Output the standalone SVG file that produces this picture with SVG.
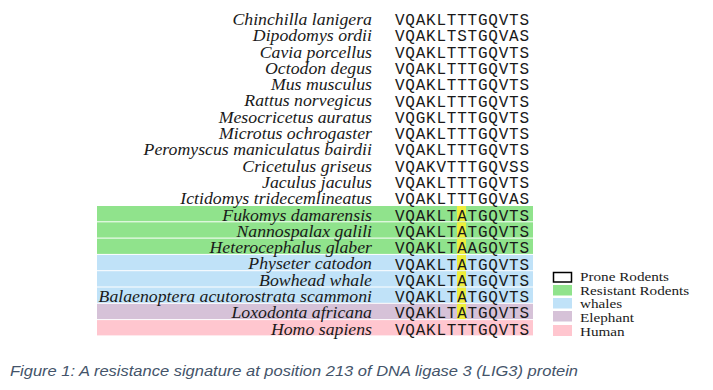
<svg xmlns="http://www.w3.org/2000/svg" width="713" height="390" viewBox="0 0 713 390">
<style>
.nm{font-family:"Liberation Serif",serif;font-style:italic;font-size:16px;fill:#1a1a1a;text-anchor:end}
.sq{font-family:"Liberation Mono",monospace;font-size:16px;fill:#1a1a1a}
.lg{font-family:"Liberation Serif",serif;font-size:13px;fill:#1a1a1a}
.cap{font-family:"Liberation Sans",sans-serif;font-style:italic;font-size:14.5px;fill:#44546a}
.g{fill:#90e38c}.b{fill:#c0e2f8}.p{fill:#d6c2d8}.k{fill:#ffc6cf}.y{fill:#eeee3c}
</style>
<rect width="713" height="390" fill="#ffffff"/>
<g id="bands">
<rect class="g" x="97" y="206" width="436" height="15.3"/>
<rect class="g" x="97" y="222.3" width="436" height="15.3"/>
<rect class="g" x="97" y="238.6" width="436" height="15.3"/>
<rect class="b" x="97" y="254.9" width="436" height="15.3"/>
<rect class="b" x="97" y="271.2" width="436" height="15.3"/>
<rect class="b" x="97" y="287.5" width="436" height="15.3"/>
<rect class="p" x="97" y="303.8" width="436" height="15.3"/>
<rect class="k" x="97" y="320.1" width="436" height="15.3"/>
<rect class="y" x="457" y="206" width="9" height="15.3"/>
<rect class="y" x="457" y="222.3" width="9" height="15.3"/>
<rect class="y" x="457" y="238.6" width="9" height="15.3"/>
<rect class="y" x="457" y="254.9" width="9" height="15.3"/>
<rect class="y" x="457" y="271.2" width="9" height="15.3"/>
<rect class="y" x="457" y="287.5" width="9" height="15.3"/>
<rect class="y" x="457" y="303.8" width="9" height="15.3"/>
</g>
<g id="names" transform="translate(372,0) scale(1.11,1) translate(-372,0)">
<text class="nm" x="372" y="25">Chinchilla lanigera</text>
<text class="nm" x="372" y="41.3">Dipodomys ordii</text>
<text class="nm" x="372" y="57.6">Cavia porcellus</text>
<text class="nm" x="372" y="73.9">Octodon degus</text>
<text class="nm" x="372" y="90.2">Mus musculus</text>
<text class="nm" x="372" y="106.5">Rattus norvegicus</text>
<text class="nm" x="372" y="122.8">Mesocricetus auratus</text>
<text class="nm" x="372" y="139.1">Microtus ochrogaster</text>
<text class="nm" x="372" y="155.4">Peromyscus maniculatus bairdii</text>
<text class="nm" x="372" y="171.7">Cricetulus griseus</text>
<text class="nm" x="372" y="188">Jaculus jaculus</text>
<text class="nm" x="372" y="204.3">Ictidomys tridecemlineatus</text>
<text class="nm" x="372" y="220.6">Fukomys damarensis</text>
<text class="nm" x="372" y="236.9">Nannospalax galili</text>
<text class="nm" x="372" y="253.2">Heterocephalus glaber</text>
<text class="nm" x="372" y="269.5">Physeter catodon</text>
<text class="nm" x="372" y="285.8">Bowhead whale</text>
<text class="nm" x="372" y="302.1">Balaenoptera acutorostrata scammoni</text>
<text class="nm" x="372" y="318.4">Loxodonta africana</text>
<text class="nm" x="372" y="334.7">Homo sapiens</text>
</g>
<g id="sequences">
<text class="sq" x="395" y="25" textLength="134">VQAKLTTTGQVTS</text>
<text class="sq" x="395" y="41.3" textLength="134">VQAKLTSTGQVAS</text>
<text class="sq" x="395" y="57.6" textLength="134">VQAKLTTTGQVTS</text>
<text class="sq" x="395" y="73.9" textLength="134">VQAKLTTTGQVTS</text>
<text class="sq" x="395" y="90.2" textLength="134">VQAKLTTTGQVTS</text>
<text class="sq" x="395" y="106.5" textLength="134">VQAKLTTTGQVTS</text>
<text class="sq" x="395" y="122.8" textLength="134">VQGKLTTTGQVTS</text>
<text class="sq" x="395" y="139.1" textLength="134">VQAKLTTTGQVTS</text>
<text class="sq" x="395" y="155.4" textLength="134">VQAKLTTTGQVTS</text>
<text class="sq" x="395" y="171.7" textLength="134">VQAKVTTTGQVSS</text>
<text class="sq" x="395" y="188" textLength="134">VQAKLTTTGQVTS</text>
<text class="sq" x="395" y="204.3" textLength="134">VQAKLTTTGQVAS</text>
<text class="sq" x="395" y="220.6" textLength="134">VQAKLTATGQVTS</text>
<text class="sq" x="395" y="236.9" textLength="134">VQAKLTATGQVTS</text>
<text class="sq" x="395" y="253.2" textLength="134">VQAKLTAAGQVTS</text>
<text class="sq" x="395" y="269.5" textLength="134">VQAKLTATGQVTS</text>
<text class="sq" x="395" y="285.8" textLength="134">VQAKLTATGQVTS</text>
<text class="sq" x="395" y="302.1" textLength="134">VQAKLTATGQVTS</text>
<text class="sq" x="395" y="318.4" textLength="134">VQAKLTATGQVTS</text>
<text class="sq" x="395" y="334.7" textLength="134">VQAKLTTTGQVTS</text>
</g>
<g id="legend">
<rect x="553.5" y="272.5" width="18" height="9.5" fill="#ffffff" stroke="#000000" stroke-width="1.5"/>
<rect class="g" x="553" y="285" width="19" height="10.5"/>
<rect class="b" x="553" y="298" width="19" height="10.5"/>
<rect class="p" x="553" y="311" width="19" height="10.5"/>
<rect class="k" x="553" y="325" width="19" height="11"/>
<g transform="translate(580,0) scale(1.17,1) translate(-580,0)">
<text class="lg" x="580" y="281.5">Prone Rodents</text>
<text class="lg" x="580" y="295">Resistant Rodents</text>
<text class="lg" x="580" y="308.5">whales</text>
<text class="lg" x="580" y="322">Elephant</text>
<text class="lg" x="580" y="336">Human</text>
</g>
</g>
<text class="cap" x="10" y="376" textLength="568" lengthAdjust="spacingAndGlyphs">Figure 1: A resistance signature at position 213 of DNA ligase 3 (LIG3) protein</text>
</svg>
